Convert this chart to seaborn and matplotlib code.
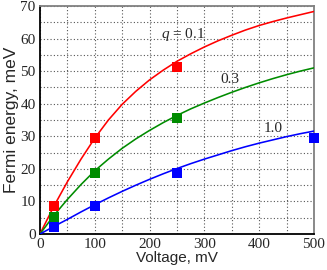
import numpy as np
import pandas as pd
import matplotlib
matplotlib.use("Agg")
import matplotlib.pyplot as plt
import seaborn as sns

# curves (voltage in mV, energy in meV)
curve_v = [0, 25, 50, 75, 100, 125, 150, 175, 200, 225, 250,
           275, 300, 325, 350, 375, 400, 425, 450, 475, 500]
curve_q01 = [0, 8.4, 16.0, 23.0, 29.4, 35.0, 39.8, 43.8, 47.3, 50.3, 53.0,
             55.3, 57.4, 59.3, 61.0, 62.6, 64.0, 65.2, 66.3, 67.3, 68.3]
curve_q03 = [0, 5.6, 10.6, 15.2, 19.4, 23.0, 26.3, 29.2, 31.8, 34.2, 36.4,
             38.4, 40.2, 41.9, 43.5, 45.0, 46.4, 47.7, 48.9, 50.0, 51.0]
curve_q10 = [0, 2.3, 4.5, 6.8, 9.0, 11.1, 13.1, 15.0, 16.8, 18.5, 20.1,
             21.6, 23.0, 24.3, 25.6, 26.8, 27.9, 28.9, 29.9, 30.8, 31.6]

# measured points
pts_v_01 = [25, 100, 250]
pts_e_01 = [8.6, 29.4, 51.2]
pts_v_03 = [25, 100, 250]
pts_e_03 = [5.3, 18.8, 35.5]
pts_v_10 = [25, 100, 250, 500]
pts_e_10 = [2.3, 8.6, 18.8, 29.4]

colors = {"0.1": "#ff0000", "0.3": "#008c00", "1.0": "#0000ff"}

curves = pd.concat([
    pd.DataFrame({"V": curve_v, "E": curve_q01, "q": "0.1"}),
    pd.DataFrame({"V": curve_v, "E": curve_q03, "q": "0.3"}),
    pd.DataFrame({"V": curve_v, "E": curve_q10, "q": "1.0"}),
])
points = pd.concat([
    pd.DataFrame({"V": pts_v_01, "E": pts_e_01, "q": "0.1"}),
    pd.DataFrame({"V": pts_v_03, "E": pts_e_03, "q": "0.3"}),
    pd.DataFrame({"V": pts_v_10, "E": pts_e_10, "q": "1.0"}),
])

sns.set_style("white")
plt.rcParams["mathtext.fontset"] = "custom"
plt.rcParams["mathtext.it"] = "Liberation Serif:italic"
plt.rcParams["mathtext.rm"] = "Liberation Serif"

fig = plt.figure(figsize=(3.27, 2.70), dpi=100)
ax = fig.add_axes([0.122, 0.133, 0.838, 0.845])

sns.lineplot(data=curves, x="V", y="E", hue="q", palette=colors,
             linewidth=1.15, legend=False, ax=ax, zorder=3)
sns.scatterplot(data=points, x="V", y="E", hue="q", palette=colors,
                marker="s", s=50, linewidth=0, legend=False, ax=ax,
                zorder=4, clip_on=False)

ax.set_xlim(0, 500)
ax.set_ylim(0, 70)
ax.set_xticks(np.arange(0, 501, 50), minor=True)
ax.set_xticks(np.arange(0, 501, 100))
ax.set_yticks(np.arange(0, 71, 5), minor=True)
ax.set_yticks(np.arange(0, 71, 10))
ax.grid(True, which="both", linestyle=(0, (1, 2)), color="#555555", linewidth=0.8)
ax.set_axisbelow(True)
ax.tick_params(which="both", length=0, pad=3)

serif = ["Liberation Serif", "DejaVu Serif"]
for lab in ax.get_xticklabels() + ax.get_yticklabels():
    lab.set_family(serif)
    lab.set_fontsize(11)

ax.set_xlabel("Voltage, mV", family="Liberation Sans", fontsize=11, labelpad=0)
ax.set_ylabel("Fermi energy, meV", family="Liberation Sans", fontsize=12.5, labelpad=1)

for side in ["left", "bottom"]:
    ax.spines[side].set_color("black")
    ax.spines[side].set_linewidth(1.3)
for side in ["top", "right"]:
    ax.spines[side].set_color("#808080")
    ax.spines[side].set_linewidth(1.3)

ax.text(261, 61.1, r"$q$ = 0.1", family=serif, fontsize=11, ha="center", va="center")
ax.text(346, 47.3, "0.3", family=serif, fontsize=11, ha="center", va="center")
ax.text(426, 32.5, "1.0", family=serif, fontsize=11, ha="center", va="center")

fig.savefig("out.png", dpi=100)
